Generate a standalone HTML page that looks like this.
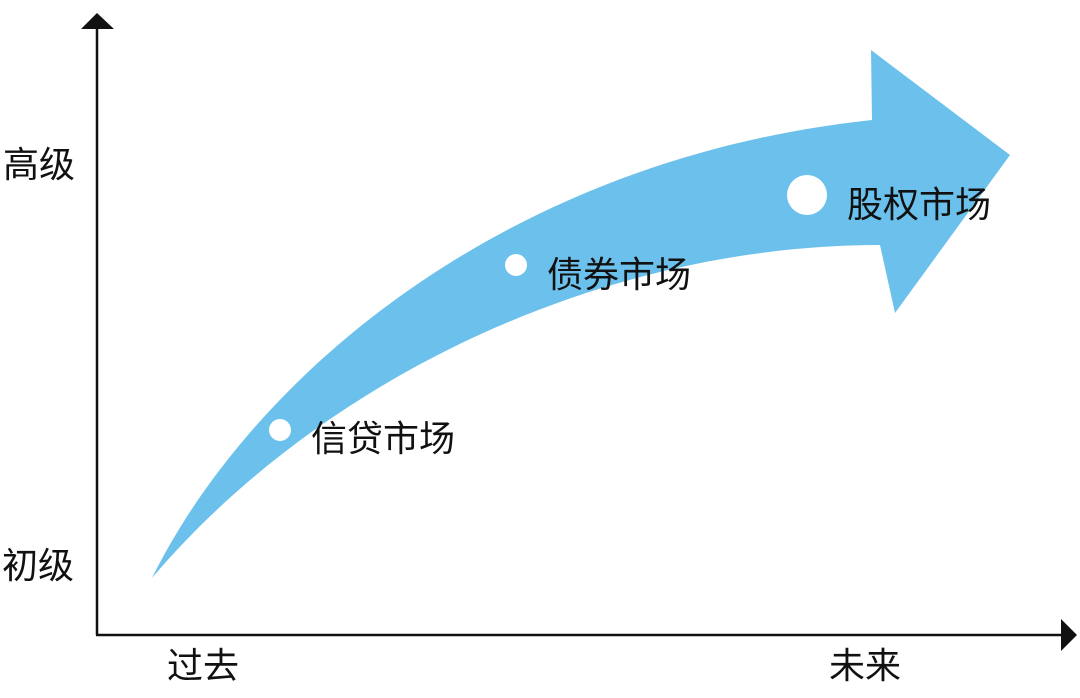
<!DOCTYPE html>
<html><head><meta charset="utf-8"><style>
html,body{margin:0;padding:0;background:#fff;}
svg{display:block;}
text{font-family:"Liberation Sans","Noto Sans CJK SC",sans-serif;font-size:36px;fill:#111;}
</style></head><body>
<svg width="1080" height="698" viewBox="0 0 1080 698" xmlns="http://www.w3.org/2000/svg">
<path d="M152,578 C250,380 500,160 872,120 L871,50 L1010,155 L895,313 L880,245 C600,245 320,380 152,578 Z" fill="#6bc1ec"/>
<line x1="97" y1="25" x2="97" y2="635" stroke="#111" stroke-width="2.5"/>
<polygon points="97,13 81,29 114,29" fill="#111"/>
<line x1="96" y1="635" x2="1062" y2="635" stroke="#111" stroke-width="2.5"/>
<polygon points="1077,635 1061,619 1061,651" fill="#111"/>
<circle cx="280" cy="430" r="11" fill="#fff"/>
<circle cx="516" cy="265" r="11" fill="#fff"/>
<circle cx="807" cy="195" r="20" fill="#fff"/>
<text x="311" y="451">信贷市场</text>
<text x="547" y="287">债券市场</text>
<text x="847" y="217">股权市场</text>
<text x="3" y="177">高级</text>
<text x="2" y="578">初级</text>
<text x="167" y="678">过去</text>
<text x="829" y="678">未来</text>
</svg>
</body></html>
